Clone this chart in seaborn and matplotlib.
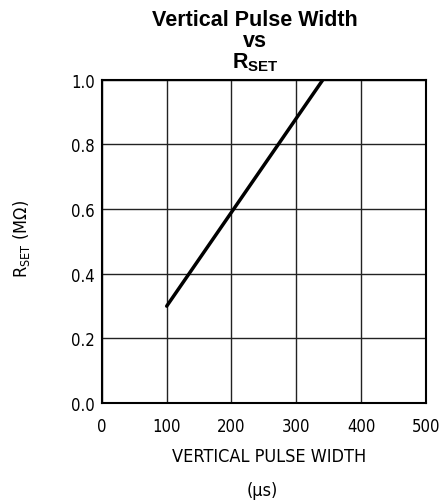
import pandas as pd
import matplotlib
matplotlib.use("Agg")
import matplotlib.pyplot as plt
import seaborn as sns

# curve
pulse_width_us = [100, 341]
r_set_mohm = [0.30, 1.00]
x_ticks = [0, 100, 200, 300, 400, 500]
y_ticks = [0.0, 0.2, 0.4, 0.6, 0.8, 1.0]

df = pd.DataFrame({"width": pulse_width_us, "rset": r_set_mohm})

sns.set_style("white")
plt.rcParams["font.family"] = ["DejaVu Sans"]
plt.rcParams["font.stretch"] = "condensed"
plt.rcParams["text.color"] = "black"
plt.rcParams["axes.labelcolor"] = "black"
plt.rcParams["mathtext.fontset"] = "custom"
plt.rcParams["mathtext.rm"] = "DejaVu Sans"
plt.rcParams["mathtext.bf"] = "Liberation Sans:bold"

fig = plt.figure(figsize=(4.45, 5.02), dpi=100)
ax = fig.add_axes([0.229, 0.195, 0.728, 0.644])

sns.lineplot(data=df, x="width", y="rset", color="black", linewidth=2.5, ax=ax)

ax.set_xlim(0, 500)
ax.set_ylim(0, 1.0)
ax.set_xticks(x_ticks)
ax.set_yticks(y_ticks)
ax.set_xticklabels([str(t) for t in x_ticks])
ax.set_yticklabels([f"{t:.1f}" for t in y_ticks])
ax.tick_params(length=0, labelsize=12, colors="black")
ax.tick_params(axis="x", pad=10)
ax.tick_params(axis="y", pad=5)
ax.grid(True, color="#222222", linewidth=1.0)
for s in ax.spines.values():
    s.set_color("black")
    s.set_linewidth(1.5)

ax.set_xlabel("VERTICAL PULSE WIDTH", fontsize=13)
ax.xaxis.set_label_coords(0.515, -0.135)
fig.text(0.589, 0.022, "(μs)", ha="center", va="center", fontsize=13)
ax.set_ylabel(r"$\mathrm{R_{SET}}$ (MΩ)", fontsize=13)
ax.yaxis.set_label_coords(-0.216, 0.51)

title_font = dict(ha="center", va="center", fontsize=15.5, fontweight="bold",
                  family="Liberation Sans", stretch="normal")
fig.text(0.573, 0.960, "Vertical Pulse Width", **title_font)
fig.text(0.573, 0.918, "vs", **title_font)
fig.text(0.573, 0.876, r"$\mathbf{R}_{\mathbf{SET}}$", ha="center", va="center",
         fontsize=15.5)

plt.savefig("out.png", dpi=100)
